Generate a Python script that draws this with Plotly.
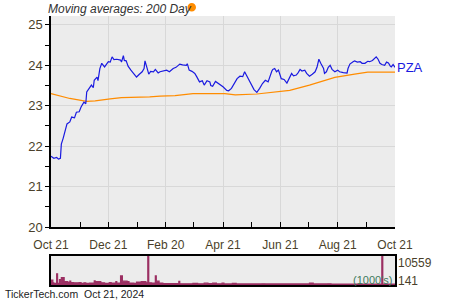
import plotly.graph_objects as go

# ---------------- data ----------------
price_dates = [
    "2023-10-21","2023-10-24","2023-10-27","2023-10-29","2023-10-31","2023-11-01","2023-11-03","2023-11-07",
    "2023-11-10","2023-11-12","2023-11-15","2023-11-17","2023-11-20","2023-11-22","2023-11-25","2023-11-27",
    "2023-11-28","2023-11-30","2023-12-03","2023-12-05","2023-12-06","2023-12-09","2023-12-10","2023-12-12",
    "2023-12-14","2023-12-17","2023-12-21","2023-12-23","2023-12-25","2023-12-27","2023-12-30","2024-01-03",
    "2024-01-04","2024-01-06","2024-01-07","2024-01-09","2024-01-11","2024-01-14","2024-01-17","2024-01-20",
    "2024-01-23","2024-01-26","2024-01-28","2024-01-29","2024-01-31","2024-02-02","2024-02-04","2024-02-07",
    "2024-02-09","2024-02-12","2024-02-14","2024-02-17","2024-02-21","2024-02-24","2024-02-28","2024-03-02",
    "2024-03-06","2024-03-09","2024-03-13","2024-03-14","2024-03-16","2024-03-19","2024-03-22","2024-03-24",
    "2024-03-27","2024-03-30","2024-04-01","2024-04-04","2024-04-07","2024-04-08","2024-04-10","2024-04-13",
    "2024-04-16","2024-04-19","2024-04-21","2024-04-25","2024-04-27","2024-04-30","2024-05-03","2024-05-06",
    "2024-05-09","2024-05-12","2024-05-14","2024-05-18","2024-05-20","2024-05-22","2024-05-24","2024-05-27",
    "2024-05-29","2024-05-30","2024-06-02","2024-06-05","2024-06-08","2024-06-10","2024-06-12","2024-06-13",
    "2024-06-15","2024-06-17","2024-06-19","2024-06-22","2024-06-25","2024-06-28","2024-07-01","2024-07-03",
    "2024-07-05","2024-07-08","2024-07-10","2024-07-12","2024-07-14","2024-07-17","2024-07-19","2024-07-22",
    "2024-07-25","2024-07-28","2024-07-30","2024-08-01","2024-08-03","2024-08-06","2024-08-07","2024-08-09",
    "2024-08-11","2024-08-13","2024-08-15","2024-08-18","2024-08-21","2024-08-23","2024-08-27","2024-08-31",
    "2024-09-01","2024-09-03","2024-09-06","2024-09-08","2024-09-11","2024-09-14","2024-09-16","2024-09-19",
    "2024-09-22","2024-09-24","2024-09-27","2024-10-01","2024-10-03","2024-10-05","2024-10-07","2024-10-10",
    "2024-10-12","2024-10-14","2024-10-16","2024-10-17","2024-10-19","2024-10-21",
]
price_values = [
    21.75,21.70,21.72,21.68,21.70,22.05,22.20,22.55,
    22.60,22.72,22.70,22.84,22.85,22.97,23.09,23.05,
    23.34,23.40,23.51,23.45,23.63,23.71,23.62,23.92,
    24.05,23.96,24.09,24.08,24.21,24.14,24.15,24.13,
    24.08,24.24,24.12,24.11,23.98,23.88,23.80,23.71,
    23.78,23.84,23.92,24.11,23.95,23.78,23.85,23.84,
    23.90,23.81,23.84,23.86,23.88,23.84,23.92,23.95,
    24.03,24.01,24.00,24.04,23.88,23.85,23.80,23.72,
    23.59,23.62,23.51,23.62,23.59,23.50,23.48,23.60,
    23.55,23.52,23.47,23.38,23.37,23.43,23.55,23.67,
    23.73,23.72,23.84,23.67,23.58,23.47,23.40,23.33,
    23.38,23.43,23.55,23.63,23.59,23.75,23.86,23.90,
    23.92,23.84,23.88,23.67,23.65,23.56,23.70,23.80,
    23.74,23.76,23.82,23.90,23.86,23.88,23.80,23.73,
    23.78,23.84,23.95,24.15,24.05,23.92,23.80,23.84,
    23.95,24.00,23.90,23.84,23.88,23.84,23.82,23.81,
    23.92,24.03,24.08,24.11,24.08,24.09,24.05,24.05,
    24.10,24.09,24.12,24.21,24.15,24.05,24.02,24.00,
    24.08,24.06,23.98,23.96,24.02,23.95,
]

ma_dates = ["2023-10-21","2023-11-10","2023-11-28","2023-12-07","2023-12-23","2024-01-04","2024-02-03",
            "2024-02-14","2024-03-01","2024-03-20","2024-04-23","2024-05-04","2024-05-27","2024-06-10",
            "2024-07-01","2024-07-22","2024-08-18","2024-09-08","2024-09-22","2024-10-21"]
ma_values = [23.30,23.18,23.11,23.12,23.17,23.20,23.22,
             23.24,23.25,23.30,23.30,23.27,23.29,23.32,
             23.38,23.51,23.70,23.78,23.83,23.83]

vol_dates = ["2023-10-21","2023-10-23","2023-10-24","2023-10-27","2023-10-28","2023-10-30","2023-10-31",
             "2023-11-01","2023-11-04","2023-11-08","2023-11-10","2023-11-11","2023-11-14","2023-11-20",
             "2023-11-22","2023-11-25","2023-11-27","2023-12-01","2023-12-06","2023-12-07","2023-12-13",
             "2023-12-17","2023-12-22","2023-12-24","2023-12-29","2023-12-30","2024-01-03","2024-01-05",
             "2024-01-10","2024-01-12","2024-01-17","2024-01-20","2024-01-25","2024-01-30","2024-02-01",
             "2024-02-02","2024-02-05","2024-02-09","2024-02-10","2024-02-13","2024-02-17","2024-03-05",
             "2024-03-06","2024-03-20","2024-03-25","2024-04-01","2024-04-05","2024-04-10","2024-04-14",
             "2024-04-20","2024-04-22","2024-05-01","2024-05-05","2024-06-01","2024-06-05","2024-07-22",
             "2024-07-26","2024-08-10","2024-08-14","2024-10-07","2024-10-08","2024-10-21"]
vol_values = [1800,800,600,4100,600,2000,1000,
              2700,1200,900,1400,900,800,900,
              600,800,600,700,1500,1200,800,
              600,900,700,1200,700,3300,1400,
              1200,700,600,1100,1200,800,10559,
              800,700,3300,1400,700,500,1300,
              450,600,450,650,500,700,450,
              650,400,600,400,450,400,700,
              380,450,360,10559,350,350]

x_tickvals = ["2023-10-21","2023-12-21","2024-02-20","2024-04-21","2024-06-21","2024-08-21","2024-10-21"]
x_ticktext = ["Oct 21","Dec 21","Feb 20","Apr 21","Jun 21","Aug 21","Oct 21"]
x_minor = ["2023-11-21","2024-01-21","2024-03-21","2024-05-21","2024-07-21","2024-09-21"]
y_tickvals = [20, 21, 22, 23, 24, 25]

# ---------------- figure ----------------
FONT = "Liberation Sans"
TICKC = "#4a3f2a"
W, H = 450, 300
def px_x(p): return p / W
def px_y(p): return 1 - p / H

fig = go.Figure()
fig.add_trace(go.Scatter(x=ma_dates, y=ma_values, mode="lines",
                         line=dict(color="#ff8c00", width=1.2), xaxis="x", yaxis="y",
                         hoverinfo="skip"))
fig.add_trace(go.Scatter(x=price_dates, y=price_values, mode="lines",
                         line=dict(color="#1a1ae0", width=1.2), xaxis="x", yaxis="y",
                         hoverinfo="skip"))
fig.add_trace(go.Scatter(x=vol_dates, y=vol_values, mode="lines", line_shape="hv",
                         line=dict(color="#9b2f62", width=1.2), fill="tozeroy",
                         fillcolor="#9b2f62", xaxis="x2", yaxis="y2", hoverinfo="skip"))

xr = ["2023-10-21", "2024-10-21"]
fig.update_layout(
    width=W, height=H, margin=dict(l=0, r=0, t=0, b=0, autoexpand=False),
    paper_bgcolor="white", plot_bgcolor="#ececec", showlegend=False,
    font=dict(family=FONT, color=TICKC, size=12),
    xaxis=dict(domain=[px_x(51), px_x(395)], range=xr, anchor="y", automargin=False,
               tickvals=x_tickvals, ticktext=x_ticktext, ticks="inside", ticklen=5,
               tickcolor="black", tickwidth=1, showgrid=True, gridcolor="#d8d8d8", gridwidth=1,
               showline=True, linecolor="black", linewidth=1.5, zeroline=False,
               tickfont=dict(size=12, color=TICKC), ticklabelstandoff=6,
               minor=dict(tickvals=x_minor, ticks="inside", ticklen=5, tickcolor="black", showgrid=False)),
    yaxis=dict(domain=[px_y(227), px_y(16)], range=[20, 25.22], anchor="x", automargin=False,
               tickvals=y_tickvals, ticks="outside", ticklen=4, tickcolor="black",
               showgrid=True, gridcolor="#d8d8d8", gridwidth=1,
               showline=True, linecolor="black", linewidth=1.5, zeroline=False,
               tickfont=dict(size=13, color=TICKC),
               minor=dict(dtick=0.5, ticks="outside", ticklen=4, tickcolor="black", showgrid=False)),
    xaxis2=dict(domain=[px_x(51), px_x(395)], range=xr, anchor="y2", automargin=False,
                showticklabels=False, ticks="", showgrid=False, zeroline=False,
                showline=True, linecolor="black", linewidth=1.5, mirror=True),
    yaxis2=dict(domain=[px_y(285), px_y(256)], range=[0, 10559], anchor="x2", automargin=False,
                showticklabels=False, ticks="", showgrid=False, zeroline=False,
                showline=True, linecolor="black", linewidth=1.5, mirror=True),
)

# annotations
fig.add_annotation(x=px_x(47), y=px_y(1), xref="paper", yref="paper", xanchor="left", yanchor="top",
                   text="Moving averages: 200 Day", showarrow=False, borderpad=0,
                   font=dict(size=12, color="#333333", family=FONT, style="italic"))
fig.add_shape(type="circle", xref="paper", yref="paper",
              x0=px_x(187.5), x1=px_x(196), y0=px_y(11.5), y1=px_y(3),
              fillcolor="#ff8c00", line=dict(color="#ff8c00", width=0))
fig.add_annotation(x=px_x(396), y=price_values[-1], xref="paper", yref="y", xanchor="left", yanchor="middle",
                   text="PZA", showarrow=False, borderpad=0, font=dict(size=13, color="#1a1ae0", family=FONT))
fig.add_annotation(x=px_x(397), y=px_y(263), xref="paper", yref="paper", xanchor="left", yanchor="middle",
                   text="10559", showarrow=False, borderpad=0, font=dict(size=12, color=TICKC, family=FONT))
fig.add_annotation(x=px_x(397), y=px_y(281), xref="paper", yref="paper", xanchor="left", yanchor="middle",
                   text="141", showarrow=False, borderpad=0, font=dict(size=12, color=TICKC, family=FONT))
fig.add_annotation(x=px_x(393), y=px_y(280), xref="paper", yref="paper", xanchor="right", yanchor="middle",
                   text="(1000's)", showarrow=False, borderpad=0, font=dict(size=11, color="#3d7a5c", family=FONT))
fig.add_annotation(x=px_x(4), y=px_y(294), xref="paper", yref="paper", xanchor="left", yanchor="middle",
                   text="TickerTech.com  Oct 21, 2024", showarrow=False, borderpad=0,
                   font=dict(size=10.5, color="#222222", family=FONT))

fig.write_html("out.html")
